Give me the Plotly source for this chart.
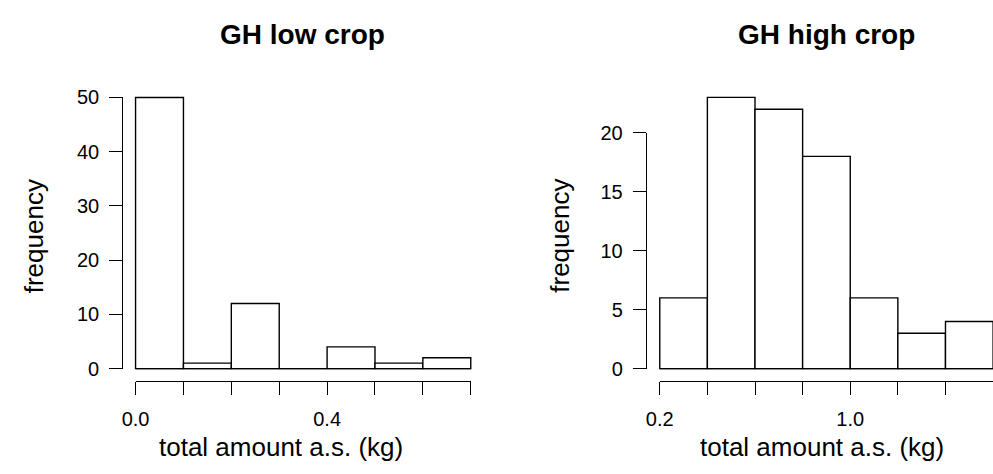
import plotly.graph_objects as go

# ---------------- data ----------------
low_breaks = [0.0, 0.1, 0.2, 0.3, 0.4, 0.5, 0.6, 0.7]
low_counts = [50, 1, 12, 0, 4, 1, 2]
low_xtick_text = ["0.0", "", "", "", "0.4", "", "", ""]
low_ytick_vals = [0, 10, 20, 30, 40, 50]

high_breaks = [0.2, 0.4, 0.6, 0.8, 1.0, 1.2, 1.4, 1.6]
high_counts = [6, 23, 22, 18, 6, 3, 4]
high_xtick_text = ["0.2", "", "", "", "1.0", "", "", ""]
high_ytick_vals = [0, 5, 10, 15, 20]

titles = ["GH low crop", "GH high crop"]
x_label = "total amount a.s. (kg)"
y_label = "frequency"

# ---------------- layout geometry (window pixels) ----------------
W, H = 993, 474
FONT = "Liberation Sans"
LINE = 1.4
INK = "#000000"

panels = [
    dict(breaks=low_breaks, counts=low_counts, xt=low_xtick_text, yt=low_ytick_vals,
         x0=123.3, binpx=48.57, y0=375.0, unit=5.686, yax=110.0, right=477.0,
         title_cx=293.0, xlab_cx=271.0, ylab_cx=20.5),
    dict(breaks=high_breaks, counts=high_counts, xt=high_xtick_text, yt=high_ytick_vals,
         x0=655.0, binpx=48.3, y0=375.0, unit=12.365, yax=641.0, right=993.0,
         title_cx=824.0, xlab_cx=820.0, ylab_cx=553.5),
]
XAXIS_PX = 387.7
TICKLEN = 13


def px_x(p):
    return p / W


def px_y(p):
    return 1 - p / H


fig = go.Figure()
layout = dict(
    width=W, height=H,
    margin=dict(l=0, r=0, t=0, b=0),
    paper_bgcolor="white", plot_bgcolor="rgba(0,0,0,0)",
    showlegend=False,
    font=dict(family=FONT, color=INK),
    annotations=[],
)

for i, P in enumerate(panels):
    disp = 2 * i + 1   # display axes (lines/ticks)
    data = 2 * i + 2   # data axes (bars)
    dx = "x" if disp == 1 else f"x{disp}"
    dy = "y" if disp == 1 else f"y{disp}"
    ddx = f"x{data}"
    ddy = f"y{data}"
    b = P["breaks"]
    bw = b[1] - b[0]
    n = len(P["counts"])

    # display x axis
    dom_r = min(P["x0"] + n * P["binpx"], W)
    xr1 = b[0] + (dom_r - P["x0"]) / P["binpx"] * bw
    layout["xaxis" if disp == 1 else f"xaxis{disp}"] = dict(
        domain=[px_x(P["x0"]), min(px_x(dom_r), 1.0)], range=[b[0], xr1],
        anchor="free", position=px_y(XAXIS_PX),
        tickmode="array", tickvals=b, ticktext=P["xt"],
        ticks="outside", ticklen=TICKLEN, tickwidth=LINE, tickcolor=INK,
        showline=True, linecolor=INK, linewidth=LINE,
        showgrid=False, zeroline=False, ticklabelstandoff=7,
        tickfont=dict(family=FONT, size=20, color=INK),
    )
    # display y axis
    ymax = max(P["yt"])
    layout["yaxis" if disp == 1 else f"yaxis{disp}"] = dict(
        domain=[px_y(P["y0"]), px_y(P["y0"] - ymax * P["unit"])], range=[0, ymax],
        anchor="free", position=px_x(P["yax"]),
        tickmode="array", tickvals=P["yt"],
        ticks="outside", ticklen=TICKLEN, tickwidth=LINE, tickcolor=INK,
        showline=True, linecolor=INK, linewidth=LINE,
        showgrid=False, zeroline=False, ticklabelstandoff=6,
        tickfont=dict(family=FONT, size=20, color=INK),
    )
    # data axes
    top_px, bot_px = 76.0, 386.0
    layout[f"xaxis{data}"] = dict(
        domain=[px_x(P["yax"]), min(px_x(P["right"]), 1.0)],
        range=[b[0] + (P["yax"] - P["x0"]) / P["binpx"] * bw,
               b[0] + (P["right"] - P["x0"]) / P["binpx"] * bw],
        anchor=ddy, visible=False, showgrid=False, zeroline=False,
    )
    layout[f"yaxis{data}"] = dict(
        domain=[px_y(bot_px), px_y(top_px)],
        range=[-(bot_px - P["y0"]) / P["unit"], (P["y0"] - top_px) / P["unit"]],
        anchor=ddx, visible=False, showgrid=False, zeroline=False,
    )

    # empty trace to create the display subplot
    fig.add_trace(go.Scatter(x=[], y=[], xaxis=dx, yaxis=dy, hoverinfo="skip"))
    # histogram bars
    mids = [(b[k] + b[k + 1]) / 2 for k in range(n)]
    fig.add_trace(go.Bar(
        x=mids, y=P["counts"], width=[b[k + 1] - b[k] for k in range(n)],
        xaxis=ddx, yaxis=ddy,
        marker=dict(color="white", line=dict(color=INK, width=LINE)),
        hoverinfo="x+y",
    ))
    # bottom edge of the bars (also shows empty bins)
    fig.add_trace(go.Scatter(
        x=[b[0], b[-1]], y=[0, 0], mode="lines", xaxis=ddx, yaxis=ddy,
        line=dict(color=INK, width=LINE), hoverinfo="skip",
    ))

    # texts
    layout["annotations"] += [
        dict(text=f"<b>{titles[i]}</b>", x=px_x(P["title_cx"]), y=px_y(24.6),
             xref="paper", yref="paper", xanchor="center", yanchor="middle",
             showarrow=False, font=dict(family=FONT, size=28, color=INK)),
        dict(text=x_label, x=px_x(P["xlab_cx"]), y=px_y(457.0),
             xref="paper", yref="paper", xanchor="center", yanchor="middle",
             showarrow=False, font=dict(family=FONT, size=26, color=INK)),
        dict(text=y_label, x=px_x(P["ylab_cx"]), y=px_y(236.0), textangle=-90,
             xref="paper", yref="paper", xanchor="center", yanchor="middle",
             showarrow=False, font=dict(family=FONT, size=26, color=INK)),
    ]

fig.update_layout(**layout)
fig.write_html(
    "out.html",
    config={"displayModeBar": False},
    post_script="document.body.style.margin='0';document.body.style.overflow='hidden';",
)
